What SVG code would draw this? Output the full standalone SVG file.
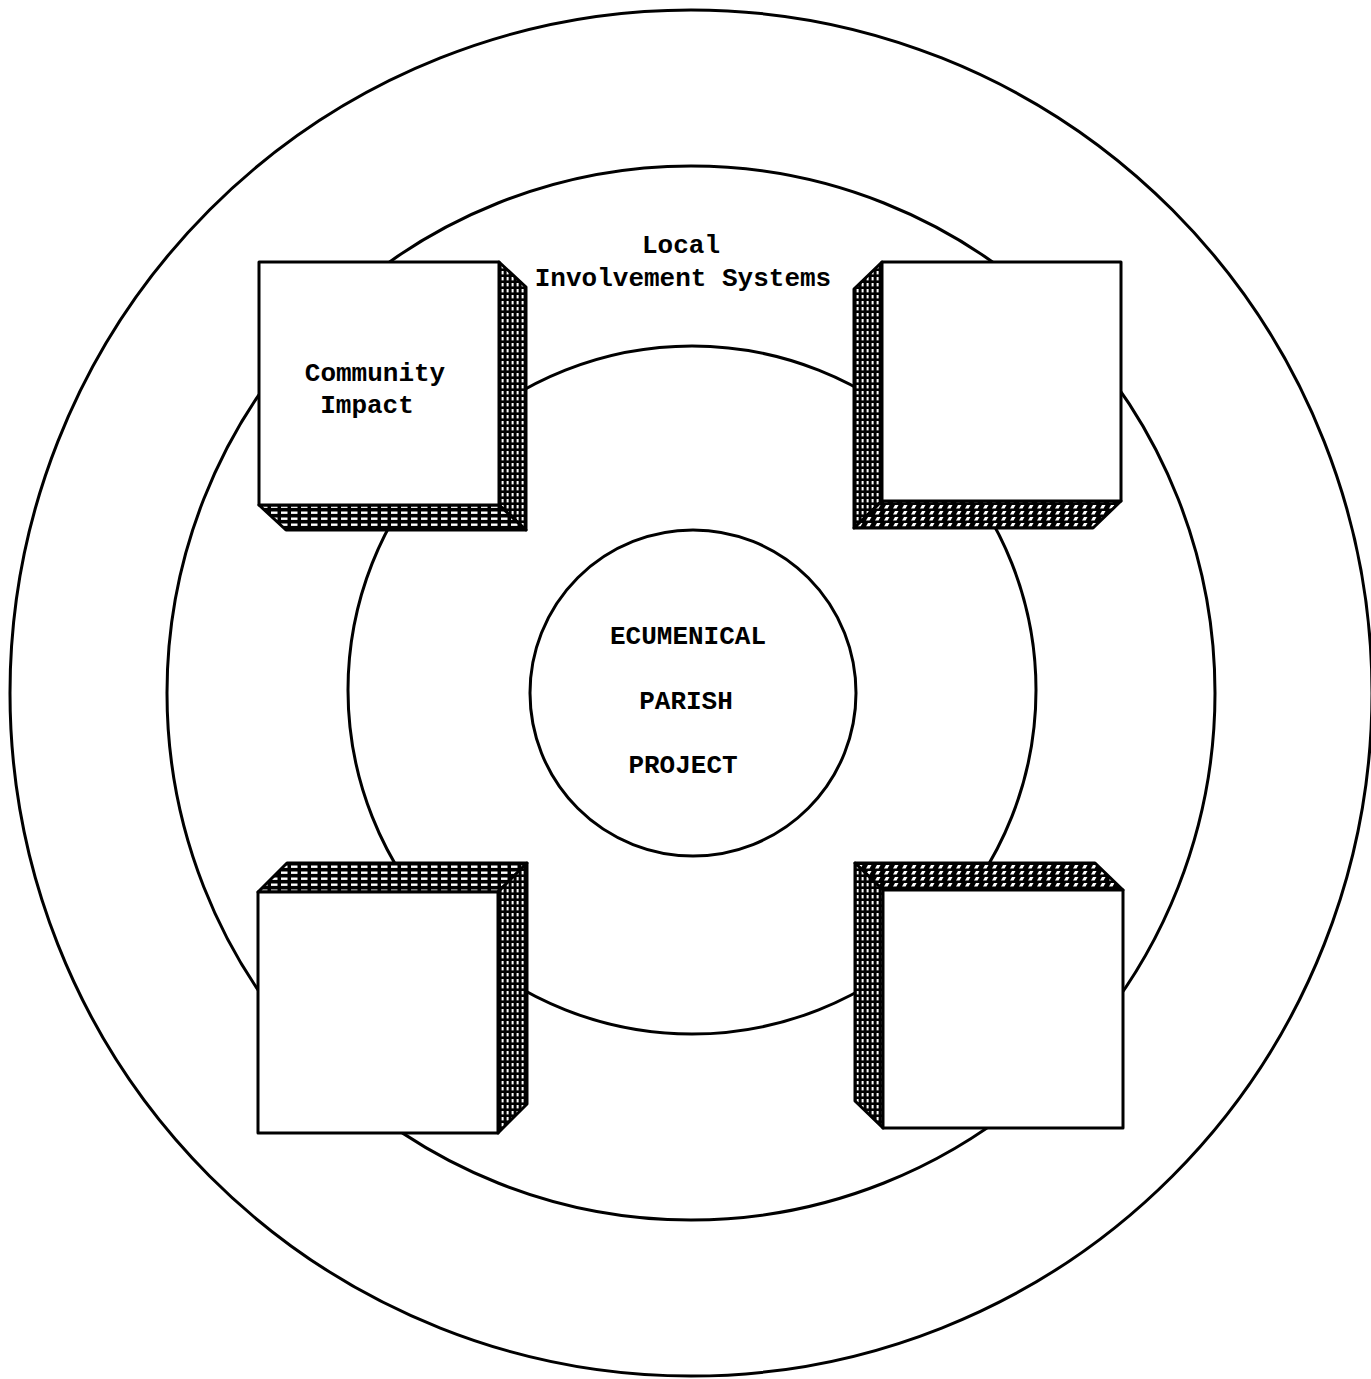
<svg xmlns="http://www.w3.org/2000/svg" width="1371" height="1379" viewBox="0 0 1371 1379">
<defs>
<pattern id="grid" width="5" height="6" patternUnits="userSpaceOnUse">
<rect width="5" height="6" fill="#000"/>
<rect x="1.6" y="1" width="2" height="3.4" fill="#fff"/>
</pattern>
<pattern id="hatch" width="9" height="6" patternUnits="userSpaceOnUse">
<rect width="9" height="6" fill="#000"/>
<polygon points="2,4.5 4,1 7.5,1 5.5,4.5" fill="#fff"/>
</pattern>
<pattern id="dash" width="10" height="6" patternUnits="userSpaceOnUse">
<rect width="10" height="6" fill="#000"/>
<rect x="1" y="1.5" width="6.5" height="2.4" fill="#fff"/>
</pattern>
</defs>
<style>
.ring{fill:none;stroke:#000;stroke-width:3}
.face{fill:#fff;stroke:#000;stroke-width:3;stroke-linejoin:round}
.side{fill:url(#grid);stroke:#000;stroke-width:3;stroke-linejoin:round}
.hz{fill:url(#hatch);stroke:#000;stroke-width:3;stroke-linejoin:round}
.hd{fill:url(#dash);stroke:#000;stroke-width:3;stroke-linejoin:round}
.t{font-family:"Liberation Mono","Courier New",monospace;font-weight:bold;font-size:26px;fill:#000;text-anchor:middle}
</style>
<rect width="1371" height="1379" fill="#fff"/>
<g id="rings">
<ellipse class="ring" cx="691" cy="693" rx="681" ry="683"/>
<ellipse class="ring" cx="691" cy="693" rx="524" ry="527"/>
<ellipse class="ring" cx="692" cy="690" rx="344" ry="344"/>
</g>
<g id="center">
<circle class="ring" cx="693" cy="693" r="163" fill="#fff"/>
<text class="t" x="688" y="644">ECUMENICAL</text>
<text class="t" x="686" y="709">PARISH</text>
<text class="t" x="683" y="773">PROJECT</text>
</g>
<g id="label-local">
<text class="t" x="681" y="253">Local</text>
<text class="t" x="683" y="286">Involvement Systems</text>
</g>
<g id="box-top-left">
<polygon class="side" points="499,262 526,287 526,530 499,505"/>
<polygon class="hd" points="259,505 499,505 526,530 286,530"/>
<rect class="face" x="259" y="262" width="240" height="243"/>
<text class="t" x="375" y="381">Community</text>
<text class="t" x="367" y="413">Impact</text>
</g>
<g id="box-top-right">
<polygon class="side" points="882,262 854,289 854,528 882,501"/>
<polygon class="hz" points="882,501 1121,501 1093,528 854,528"/>
<rect class="face" x="882" y="262" width="239" height="239"/>
</g>
<g id="box-bottom-left">
<polygon class="hd" points="258,892 287,863 527,863 498,892"/>
<polygon class="side" points="498,892 527,863 527,1104 498,1133"/>
<rect class="face" x="258" y="892" width="240" height="241"/>
</g>
<g id="box-bottom-right">
<polygon class="hz" points="883,890 855,863 1095,863 1123,890"/>
<polygon class="side" points="855,863 883,890 883,1128 855,1101"/>
<rect class="face" x="883" y="890" width="240" height="238"/>
</g>
<g id="connectors"></g>
</svg>
